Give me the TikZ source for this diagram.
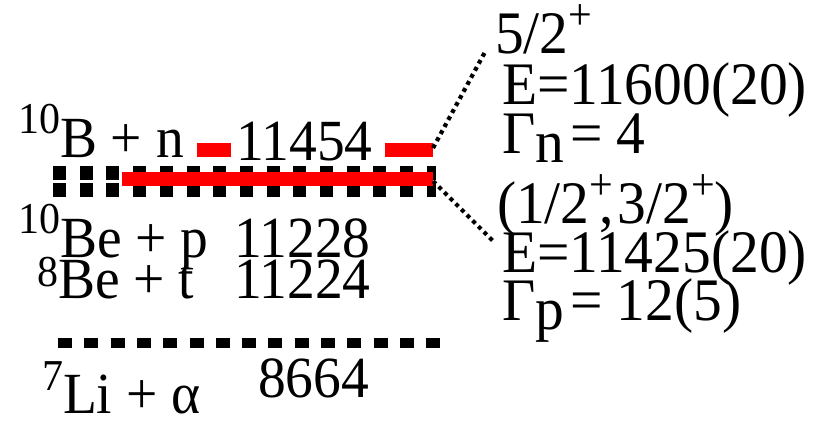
\documentclass[tikz,border=0pt]{standalone}
\usepackage{fontspec}
\setmainfont{Liberation Serif}
\newcommand{\supx}[2]{\raisebox{#1}{\fontsize{42}{42}\selectfont #2}}
\newcommand{\subx}[2]{\raisebox{-#1}{#2}\hspace{6pt}}
\newcommand{\tallx}[1]{\scalebox{1}[1.05]{#1}}
\begin{document}
\begin{tikzpicture}[x=1pt,y=-1pt,
  lbl/.style={inner sep=0pt,outer sep=0pt,anchor=base west,font=\fontsize{55.5}{55}\selectfont},
  rlbl/.style={lbl,font=\fontsize{57.5}{57}\selectfont},
  blackdash/.style={line width=14pt,dash pattern=on 13pt off 13.7pt},
  lowdash/.style={line width=10pt,dash pattern=on 14pt off 12.3pt},
  redbar/.style={line width=14pt,red},
  dotline/.style={line width=4.2pt,dash pattern=on 4pt off 4pt}]
\useasboundingbox (0,0) rectangle (821,421);
% levels
\draw[blackdash] (53,173) -- (436,173);
\draw[blackdash] (53,189.5) -- (436,189.5);
\draw[redbar] (122,179) -- (433,179);
\draw[redbar] (197,150) -- (231,150);
\draw[redbar] (385,150) -- (433,150);
\draw[lowdash] (58,343) -- (441,343);
% anchors
\coordinate (upA) at (433,148);
\coordinate (lowA) at (433,181);
% left labels
\node[lbl] (bn) at (18,157) {\tallx{\supx{22pt}{10}B + n}};
\node[lbl] (e1) at (236,160) {\tallx{11454}};
\node[lbl] (bep) at (18,257) {\tallx{\supx{22pt}{10}Be + p}};
\node[lbl] (e2) at (234,257) {\tallx{11228}};
\node[lbl] (bet) at (37,298) {\tallx{\supx{11pt}{8}Be + t}};
\node[lbl] (e3) at (234,298) {\tallx{11224}};
\node[lbl] (lia) at (42,413) {\tallx{\supx{21pt}{7}Li + α}};
\node[lbl] (e4) at (258,397) {\tallx{8664}};
% right labels
\node[rlbl] (j1) at (495,53) {\tallx{5/2\supx{22pt}{+}}};
\node[rlbl] (E1) at (502,104) {\tallx{E=11600(20)}};
\node[rlbl] (G1) at (502,153) {\tallx{Γ\subx{9pt}{n}= 4}};
\node[rlbl] (j2) at (497,223) {\tallx{(1/2\supx{22pt}{+}\hspace{-14pt},\hspace{4pt}3/2\supx{22pt}{+})}};
\node[rlbl] (E2) at (502,272) {\tallx{E=11425(20)}};
\node[rlbl] (G2) at (502,320) {\tallx{Γ\subx{9pt}{p}= 12(5)}};
% connectors
\draw[dotline] (upA) -- ([xshift=-10pt,yshift=1pt]j1.base west);
\draw[dotline] (lowA) -- ([xshift=-4pt,yshift=-18pt]j2.base west);
\end{tikzpicture}
\end{document}
